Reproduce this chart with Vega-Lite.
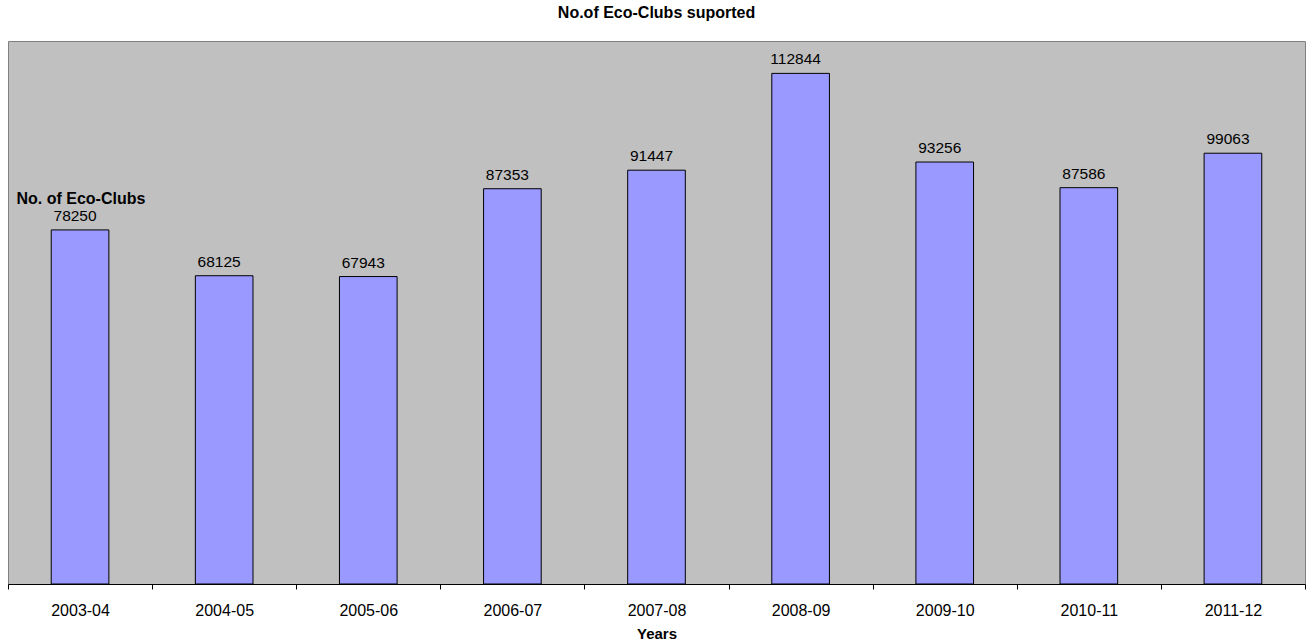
{
  "$schema": "https://vega.github.io/schema/vega-lite/v6.json",
  "width": 1297,
  "height": 543,
  "autosize": {"type": "none"},
  "padding": {"left": 8, "top": 41, "right": 6, "bottom": 60},
  "background": "white",
  "title": {"text": "No.of Eco-Clubs suported", "font": "Liberation Sans", "fontSize": 16, "fontWeight": "bold", "color": "black", "offset": 20, "anchor": "middle"},
  "config": {
    "view": {"fill": "#C0C0C0", "stroke": "#808080", "strokeWidth": 1}
  },
  "data": {"values": [
    {"year": "2003-04", "clubs": 78250, "label": "78250"},
    {"year": "2004-05", "clubs": 68125, "label": "68125"},
    {"year": "2005-06", "clubs": 67943, "label": "67943"},
    {"year": "2006-07", "clubs": 87353, "label": "87353"},
    {"year": "2007-08", "clubs": 91447, "label": "91447"},
    {"year": "2008-09", "clubs": 112844, "label": "112844"},
    {"year": "2009-10", "clubs": 93256, "label": "93256"},
    {"year": "2010-11", "clubs": 87586, "label": "87586"},
    {"year": "2011-12", "clubs": 95200, "label": "99063"}
  ]},
  "encoding": {
    "x": {"field": "year", "type": "nominal", "sort": null,
      "scale": {"paddingInner": 0, "paddingOuter": 0},
      "axis": {"title": "Years", "labelAngle": 0, "labelFont": "Liberation Sans", "labelFontSize": 16, "labelColor": "black", "labelPadding": 13,
        "titleFont": "Liberation Sans", "titleFontSize": 15, "titleFontWeight": "bold", "titleColor": "black", "titlePadding": 8,
        "domainColor": "black", "tickColor": "black", "tickSize": 5, "tickBand": "extent", "domainWidth": 1}},
    "y": {"field": "clubs", "type": "quantitative", "scale": {"domain": [0, 120000]},
      "axis": {"title": "No. of Eco-Clubs", "grid": false, "labels": false, "ticks": false, "domain": false,
        "titleAngle": 0, "titleAlign": "left", "titleBaseline": "middle", "titleX": 8, "titleY": 157,
        "titleFont": "Liberation Sans", "titleFontSize": 16, "titleFontWeight": "bold", "titleColor": "black"}}
  },
  "layer": [
    {"mark": {"type": "bar", "color": "#9999FF", "stroke": "black", "strokeWidth": 1, "width": {"band": 0.4}}},
    {"mark": {"type": "text", "dy": -9, "dx": -5, "baseline": "alphabetic", "font": "Liberation Sans", "fontSize": 15.5, "color": "black"},
      "encoding": {"text": {"field": "label", "type": "nominal"}}}
  ]
}
